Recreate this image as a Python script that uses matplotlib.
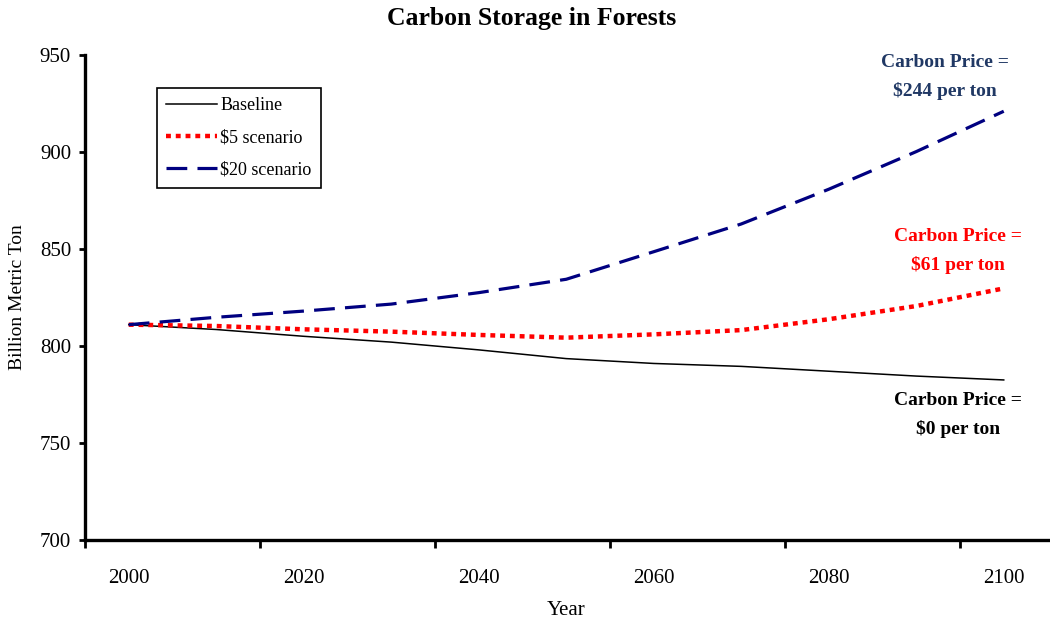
import matplotlib
matplotlib.use("Agg")
import matplotlib.pyplot as plt

years = [2000, 2010, 2020, 2030, 2040, 2050, 2060, 2070, 2080, 2090, 2100]
baseline = [811, 808.5, 805, 802, 798, 793.5, 791, 789.5, 787, 784.5, 782.5]
scen5 = [811, 810.3, 808.6, 807.4, 805.7, 804.3, 806, 808.2, 813.8, 820.6, 829.7]
scen20 = [811, 814.8, 818, 821.6, 827.5, 834.4, 848.6, 862.9, 880.8, 900.2, 921]

xtick_labels = ["2000", "2020", "2040", "2060", "2080", "2100"]
xtick_label_pos = [2000, 2020, 2040, 2060, 2080, 2100]
xtick_mark_pos = [1995, 2015, 2035, 2055, 2075, 2095]
yticks = [700, 750, 800, 850, 900, 950]

serif = ["Liberation Serif", "DejaVu Serif"]
plt.rcParams['font.family'] = serif

fig = plt.figure(figsize=(10.5, 6.22), dpi=100)
ax = fig.add_axes([85/1050, 1 - 540/622, 962.5/1050, 485/622])

ax.plot(years, baseline, color="black", lw=1.1, label="Baseline")
ax.plot(years, scen5, color="#FF0000", lw=3.2, dashes=(1.1, 1.1),
        dash_capstyle="butt", label="$5 scenario")
ax.plot(years, scen20, color="#000080", lw=2.3, dashes=(6.5, 3.2),
        dash_capstyle="butt", label="$20 scenario")

ax.set_xlim(1995, 2105)
ax.set_ylim(700, 950)

for s in ["top", "right"]:
    ax.spines[s].set_visible(False)
for s in ["left", "bottom"]:
    ax.spines[s].set_linewidth(2.4)

ax.set_xticks(xtick_mark_pos)
ax.set_xticklabels([])
ax.set_xticks(xtick_label_pos, minor=True)
ax.set_xticklabels(xtick_labels, minor=True)
ax.tick_params(axis="x", which="major", direction="out", length=6, width=2)
ax.tick_params(axis="x", which="minor", length=0, pad=21, labelsize=15)
ax.set_yticks(yticks)
ax.tick_params(axis="y", direction="out", length=4, width=2, pad=6, labelsize=15)

ax.set_xlabel("Year", fontsize=15, labelpad=9)
ax.set_ylabel("Billion Metric Ton", fontsize=14, labelpad=10)
fig.text(532/1050, 1 - 18/622, "Carbon Storage in Forests", ha="center", va="center",
         fontsize=18.5, fontweight="bold")

leg = ax.legend(loc="upper left", bbox_to_anchor=(0.075, 0.932), borderaxespad=0,
                fancybox=False, edgecolor="black", framealpha=1, fontsize=13,
                handlelength=2.8, handletextpad=0.2, labelspacing=0.85,
                borderpad=0.5)
leg.get_frame().set_linewidth(1.2)

ax.text(2093.3, 938.7, "Carbon Price =\n$244 per ton", color="#203864", fontsize=14,
        fontweight="bold", ha="center", va="center", linespacing=1.75)
ax.text(2094.8, 849, "Carbon Price =\n$61 per ton", color="#FF0000", fontsize=14,
        fontweight="bold", ha="center", va="center", linespacing=1.75)
ax.text(2094.8, 764.4, "Carbon Price =\n$0 per ton", color="black", fontsize=14,
        fontweight="bold", ha="center", va="center", linespacing=1.75)

fig.savefig("out.png", dpi=100)
